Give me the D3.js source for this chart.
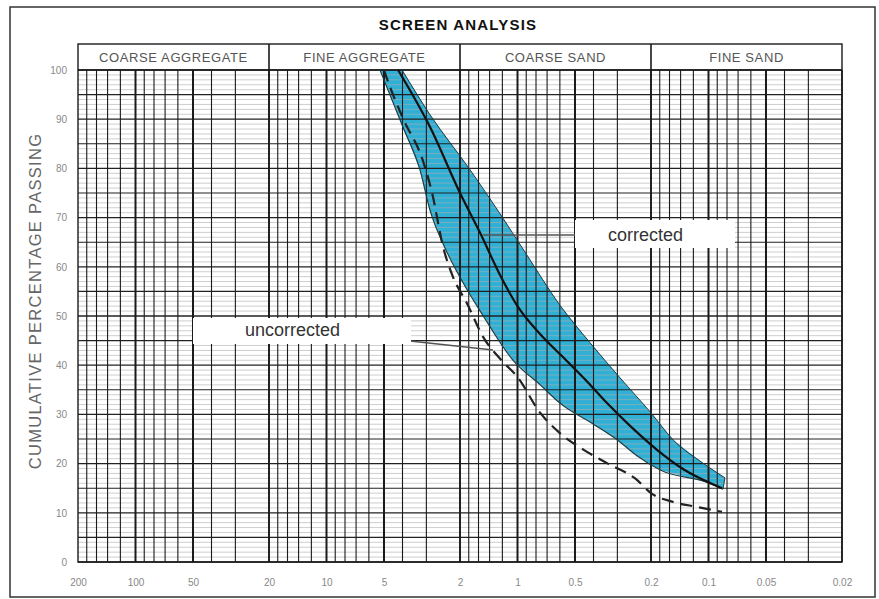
<!DOCTYPE html>
<html>
<head>
<meta charset="utf-8">
<script src="https://cdn.jsdelivr.net/npm/d3@7"></script>
<style>
  body { margin: 0; background: #fff; }
  svg { font-family: "Liberation Sans", Arial, Helvetica, sans-serif; }
</style>
</head>
<body>
<div id="chart"></div>
<script>
// sieve sizes (mm) and cumulative % passing
const upperSize = [4.02, 2.87, 1.77, 1.24, 0.914, 0.60, 0.42, 0.29, 0.20, 0.153, 0.107, 0.082];
const upperPass = [100, 90.9, 79.7, 70.9, 63.0, 52.2, 44.7, 37.4, 30.3, 24.8, 20.1, 17.1];
const lowerSize = [5.25, 3.98, 3.24, 2.87, 2.42, 1.95, 1.50, 1.06, 0.76, 0.60, 0.40, 0.30, 0.237, 0.179, 0.10, 0.084];
const lowerPass = [100, 88.4, 79.7, 71.5, 64.2, 57.1, 49.8, 41.1, 36.0, 32.3, 28.0, 24.8, 21.6, 18.7, 16.1, 14.8];
const corrSize = [4.22, 2.87, 2.0, 1.57, 1.24, 1.0, 0.76, 0.58, 0.43, 0.34, 0.25, 0.186, 0.136, 0.085];
const corrPass = [100, 88.4, 75, 66.9, 58.5, 52.0, 46.3, 41.7, 36.6, 32.3, 27.2, 22.8, 18.9, 15.0];
const uncorrSize = [5.0, 4.8, 4.0, 3.1, 2.8, 2.45, 2.18, 1.84, 1.50, 1.22, 1.0, 0.76, 0.60, 0.45, 0.34, 0.237, 0.20, 0.153, 0.115, 0.085];
const uncorrPass = [100, 98, 90.4, 81.1, 75, 64, 58, 52.6, 45.5, 41.1, 37.6, 30.3, 26.2, 22.8, 20.1, 16.7, 14.0, 12.2, 11.2, 10.2];

const sections = ["COARSE AGGREGATE", "FINE AGGREGATE", "COARSE SAND", "FINE SAND"];
const sectionBounds = [200, 20, 2, 0.2, 0.02];
const xTicks = [200, 100, 50, 20, 10, 5, 2, 1, 0.5, 0.2, 0.1, 0.05, 0.02];
const yTicks = [0, 10, 20, 30, 40, 50, 60, 70, 80, 90, 100];
const decadeBases = [20, 2, 0.2, 0.02];
const gridMult = [1, 1.5, 2, 2.5, 3, 3.5, 4, 4.5, 5, 6, 7, 8, 9];

const W = 879, H = 599;
const plotLeft = 78, plotRight = 842, plotTop = 70, plotBottom = 562, headTop = 44;

const svg = d3.select('#chart').append('svg')
    .attr('width', W)
    .attr('height', H);

const x = d3.scaleLog().domain([200, 0.02]).range([plotLeft, plotRight]);
const y = d3.scaleLinear().domain([0, 100]).range([plotBottom, plotTop]);

// outer frame
svg.append('rect')
    .attr('x', 10).attr('y', 7)
    .attr('width', 865).attr('height', 590)
    .attr('fill', 'none')
    .attr('stroke', '#333')
    .attr('stroke-width', 1.5);

// title
svg.append('text')
    .attr('x', 458).attr('y', 30)
    .attr('text-anchor', 'middle')
    .attr('font-size', 15)
    .attr('font-weight', 'bold')
    .attr('letter-spacing', 1.2)
    .attr('fill', '#111')
    .text('SCREEN ANALYSIS');

// envelope band (under the grid, grid shows through)
const bandPts = upperSize.map((s, i) => [s, upperPass[i]])
    .concat(lowerSize.map((s, i) => [s, lowerPass[i]]).reverse());
const edgeLine = d3.line().x(d => x(d[0])).y(d => y(d[1])).curve(d3.curveMonotoneX);
const upperPath = edgeLine(upperSize.map((s, i) => [s, upperPass[i]]));
const lowerPath = edgeLine(lowerSize.map((s, i) => [s, lowerPass[i]]));

svg.append('polygon')
    .attr('points', bandPts.map(d => [x(d[0]), y(d[1])].join(',')).join(' '))
    .attr('fill', '#31b0d6');

// horizontal grid
const gridG = svg.append('g');
gridG.selectAll('.hline')
    .data(d3.range(0, 101))
    .enter()
    .append('line')
    .attr('x1', plotLeft).attr('x2', plotRight)
    .attr('y1', d => y(d)).attr('y2', d => y(d))
    .attr('stroke', d => d % 5 === 0 ? '#222' : '#adadad')
    .attr('stroke-width', d => d % 10 === 0 ? 1.3 : (d % 5 === 0 ? 1.1 : 0.6));

// vertical grid
const vlines = [];
decadeBases.forEach(b => gridMult.forEach(m => vlines.push({ v: b * m, m: m })));
gridG.selectAll('.vline')
    .data(vlines)
    .enter()
    .append('line')
    .attr('x1', d => x(d.v)).attr('x2', d => x(d.v))
    .attr('y1', plotTop).attr('y2', plotBottom)
    .attr('stroke', '#1a1a1a')
    .attr('stroke-width', d => (d.m === 5 || d.m === 2.5) ? 2 : (d.m === 1 ? 1.6 : 1.1));

// header row and section dividers
svg.append('rect')
    .attr('x', plotLeft).attr('y', headTop)
    .attr('width', plotRight - plotLeft).attr('height', plotBottom - headTop)
    .attr('fill', 'none')
    .attr('stroke', '#1a1a1a')
    .attr('stroke-width', 1.4);
svg.append('line')
    .attr('x1', plotLeft).attr('x2', plotRight)
    .attr('y1', plotTop).attr('y2', plotTop)
    .attr('stroke', '#1a1a1a').attr('stroke-width', 1.4);
svg.selectAll('.divider')
    .data(sectionBounds.slice(1, -1))
    .enter()
    .append('line')
    .attr('x1', d => x(d)).attr('x2', d => x(d))
    .attr('y1', headTop).attr('y2', plotBottom)
    .attr('stroke', '#1a1a1a').attr('stroke-width', 1.6);
svg.selectAll('.section')
    .data(sections)
    .enter()
    .append('text')
    .attr('x', (d, i) => (x(sectionBounds[i]) + x(sectionBounds[i + 1])) / 2)
    .attr('y', 62)
    .attr('text-anchor', 'middle')
    .attr('font-size', 13)
    .attr('letter-spacing', 0.6)
    .attr('fill', '#555')
    .text(d => d);

// band outline
svg.append('path').attr('d', upperPath)
    .attr('fill', 'none').attr('stroke', '#1f3d44').attr('stroke-width', 1);
svg.append('path').attr('d', lowerPath)
    .attr('fill', 'none').attr('stroke', '#1f3d44').attr('stroke-width', 1.2);
svg.append('line')
    .attr('x1', x(upperSize[upperSize.length - 1])).attr('y1', y(upperPass[upperPass.length - 1]))
    .attr('x2', x(lowerSize[lowerSize.length - 1])).attr('y2', y(lowerPass[lowerPass.length - 1]))
    .attr('stroke', '#1f3d44').attr('stroke-width', 1);

// corrected (solid) and uncorrected (dashed) curves
const curve = d3.line().x(d => x(d[0])).y(d => y(d[1])).curve(d3.curveMonotoneX);
svg.append('path')
    .attr('d', curve(corrSize.map((s, i) => [s, corrPass[i]])))
    .attr('fill', 'none')
    .attr('stroke', '#111')
    .attr('stroke-width', 2.2);
svg.append('path')
    .attr('d', curve(uncorrSize.map((s, i) => [s, uncorrPass[i]])))
    .attr('fill', 'none')
    .attr('stroke', '#222')
    .attr('stroke-width', 2.2)
    .attr('stroke-dasharray', '12,7');

// callout labels
svg.append('line')
    .attr('x1', 483).attr('y1', 235).attr('x2', 576).attr('y2', 235)
    .attr('stroke', '#555').attr('stroke-width', 1.5);
svg.append('rect')
    .attr('x', 575).attr('y', 220).attr('width', 160).attr('height', 28)
    .attr('fill', '#fff');
svg.append('text')
    .attr('x', 608).attr('y', 241)
    .attr('font-size', 18)
    .attr('fill', '#333')
    .text('corrected');

svg.append('line')
    .attr('x1', 410).attr('y1', 341).attr('x2', 493).attr('y2', 350)
    .attr('stroke', '#555').attr('stroke-width', 1.5);
svg.append('rect')
    .attr('x', 193).attr('y', 318).attr('width', 218).attr('height', 26)
    .attr('fill', '#fff');
svg.append('text')
    .attr('x', 245).attr('y', 336)
    .attr('font-size', 18)
    .attr('fill', '#333')
    .text('uncorrected');

// axes
const xAxis = svg.append('g')
    .attr('transform', `translate(0,${plotBottom})`)
    .call(d3.axisBottom(x).tickValues(xTicks).tickSize(0).tickPadding(17).tickFormat(d3.format('~g')));
xAxis.select('.domain').remove();
xAxis.selectAll('text').attr('fill', '#888').attr('font-size', 10);
xAxis.attr('font-family', null);

const yAxis = svg.append('g')
    .attr('transform', `translate(${plotLeft},0)`)
    .call(d3.axisLeft(y).tickValues(yTicks).tickSize(0).tickPadding(11));
yAxis.select('.domain').remove();
yAxis.selectAll('text').attr('fill', '#888').attr('font-size', 10);
yAxis.attr('font-family', null);

// y-axis title
svg.append('text')
    .attr('transform', 'rotate(-90)')
    .attr('x', -301)
    .attr('y', 41)
    .attr('text-anchor', 'middle')
    .attr('font-size', 16.5)
    .attr('letter-spacing', 1.3)
    .attr('fill', '#666')
    .text('CUMULATIVE PERCENTAGE PASSING');
</script>
</body>
</html>
